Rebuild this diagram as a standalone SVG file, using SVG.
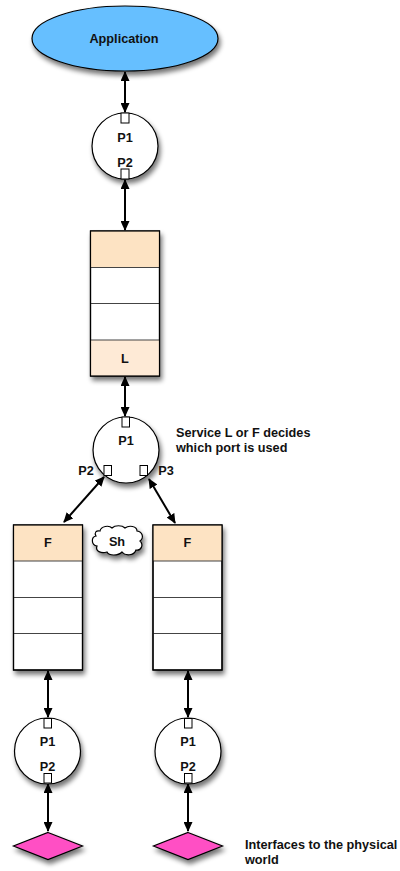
<svg xmlns="http://www.w3.org/2000/svg" width="400" height="871" viewBox="0 0 400 871">
<defs>
<filter id="sh" x="-30%" y="-30%" width="170%" height="170%">
<feGaussianBlur in="SourceAlpha" stdDeviation="2.5"/>
<feOffset dx="2" dy="4" result="b"/>
<feComponentTransfer><feFuncA type="linear" slope="0.55"/></feComponentTransfer>
<feMerge><feMergeNode/><feMergeNode in="SourceGraphic"/></feMerge>
</filter>
<marker id="ah" viewBox="0 0 10 9" markerWidth="10" markerHeight="9" refX="9" refY="4.5" orient="auto-start-reverse" markerUnits="userSpaceOnUse">
<path d="M0,0 L10,4.5 L0,9 z" fill="#000"/>
</marker>
</defs>
<style>
text{font-family:"Liberation Sans",Arial,sans-serif;font-weight:bold;font-size:12.7px;fill:#111}
.c{text-anchor:middle}
.n{stroke:#000;stroke-width:1.2}
.w{fill:#fff}
.o{fill:#fde3c3}
.p{fill:#feead6}
.port{fill:#fff;stroke:#000;stroke-width:1}
.row{stroke:#444;stroke-width:1.2}
.e line{stroke:#000;stroke-width:2;marker-start:url(#ah);marker-end:url(#ah)}
</style>

<g id="connectors" class="e">
<line x1="125" y1="72" x2="125" y2="112"/>
<line x1="125" y1="180" x2="125" y2="230"/>
<line x1="125" y1="377" x2="125" y2="416"/>
<line x1="104" y1="477" x2="64" y2="522"/>
<line x1="149" y1="479" x2="175" y2="523"/>
<line x1="48" y1="671" x2="48" y2="717"/>
<line x1="188" y1="671" x2="188" y2="717"/>
<line x1="48" y1="784" x2="48" y2="831"/>
<line x1="188" y1="784" x2="188" y2="831"/>
</g>

<g id="application">
<ellipse cx="125" cy="38.5" rx="93" ry="32.5" fill="#66bfff" class="n" filter="url(#sh)"/>
<text x="124" y="43.3" class="c">Application</text>
</g>

<g id="port1">
<circle cx="125" cy="146" r="33" class="n w" filter="url(#sh)"/>
<rect x="121" y="113" width="8" height="10" class="port"/>
<rect x="121" y="169" width="8" height="10" class="port"/>
<text x="125" y="142" class="c">P1</text>
<text x="125" y="167" class="c">P2</text>
</g>

<g id="stackL">
<g filter="url(#sh)">
<rect x="90.5" y="231" width="69" height="145" class="n w"/>
</g>
<rect x="90.5" y="231" width="69" height="36.5" class="o"/>
<rect x="90.5" y="340" width="69" height="36" class="p"/>
<line x1="90.5" y1="267.5" x2="159.5" y2="267.5" class="row"/>
<line x1="90.5" y1="303.5" x2="159.5" y2="303.5" class="row"/>
<line x1="90.5" y1="340" x2="159.5" y2="340" class="row"/>
<rect x="90.5" y="231" width="69" height="145" fill="none" class="n"/>
<text x="125" y="363" class="c">L</text>
</g>

<g id="port2">
<circle cx="126" cy="450" r="33" class="n w" filter="url(#sh)"/>
<rect x="122" y="417" width="7.5" height="10" class="port"/>
<rect x="104" y="465.5" width="7.5" height="10" class="port"/>
<rect x="140" y="465.5" width="7.5" height="10" class="port"/>
<text x="126" y="445" class="c">P1</text>
<text x="86" y="475" class="c">P2</text>
<text x="166" y="475" class="c">P3</text>
</g>

<g id="note1">
<text x="176" y="437">Service L or F decides</text>
<text x="176" y="452">which port is used</text>
</g>

<g id="stackF1">
<g filter="url(#sh)">
<rect x="13.5" y="525" width="69" height="145" class="n w"/>
</g>
<rect x="13.5" y="525" width="69" height="36" class="o"/>
<line x1="13.5" y1="561" x2="82.5" y2="561" class="row"/>
<line x1="13.5" y1="597.5" x2="82.5" y2="597.5" class="row"/>
<line x1="13.5" y1="633.5" x2="82.5" y2="633.5" class="row"/>
<rect x="13.5" y="525" width="69" height="145" fill="none" class="n"/>
<text x="48" y="547" class="c">F</text>
</g>

<g id="stackF2">
<g filter="url(#sh)">
<rect x="153" y="525" width="69" height="145" class="n w"/>
</g>
<rect x="153" y="525" width="69" height="36" class="o"/>
<line x1="153" y1="561" x2="222" y2="561" class="row"/>
<line x1="153" y1="597.5" x2="222" y2="597.5" class="row"/>
<line x1="153" y1="633.5" x2="222" y2="633.5" class="row"/>
<rect x="153" y="525" width="69" height="145" fill="none" class="n"/>
<text x="187.5" y="547" class="c">F</text>
</g>

<g id="sh-cloud">
<path d="M100,531 C101,526 109,525 112,528 C115,525 122,525 125,528 C129,525 137,526 137,531 C143,532 144,538 140,541 C144,545 141,551 136,550 C134,556 125,556 122,552 C118,556 109,556 107,552 C101,554 95,551 97,546 C91,545 91,537 96,536 C94,533 96,530 100,531 z" class="n w" filter="url(#sh)"/>
<text x="117" y="546" class="c">Sh</text>
</g>

<g id="port3">
<circle cx="47.5" cy="751" r="33" class="n w" filter="url(#sh)"/>
<rect x="44" y="718.5" width="7.5" height="9.5" class="port"/>
<rect x="44" y="773.5" width="7.5" height="9.5" class="port"/>
<text x="47.5" y="746" class="c">P1</text>
<text x="47.5" y="771" class="c">P2</text>
</g>

<g id="port4">
<circle cx="188" cy="751" r="33" class="n w" filter="url(#sh)"/>
<rect x="184.5" y="718.5" width="7.5" height="9.5" class="port"/>
<rect x="184.5" y="773.5" width="7.5" height="9.5" class="port"/>
<text x="188" y="746" class="c">P1</text>
<text x="188" y="771" class="c">P2</text>
</g>

<g id="iface1">
<polygon points="48,832.5 82.5,846 48,859.5 13.5,846" fill="#ff4fc4" class="n" filter="url(#sh)"/>
</g>
<g id="iface2">
<polygon points="188,832.5 222.5,846 188,859.5 153.5,846" fill="#ff4fc4" class="n" filter="url(#sh)"/>
</g>

<g id="note2">
<text x="245" y="849">Interfaces to the physical</text>
<text x="245" y="864">world</text>
</g>
</svg>
